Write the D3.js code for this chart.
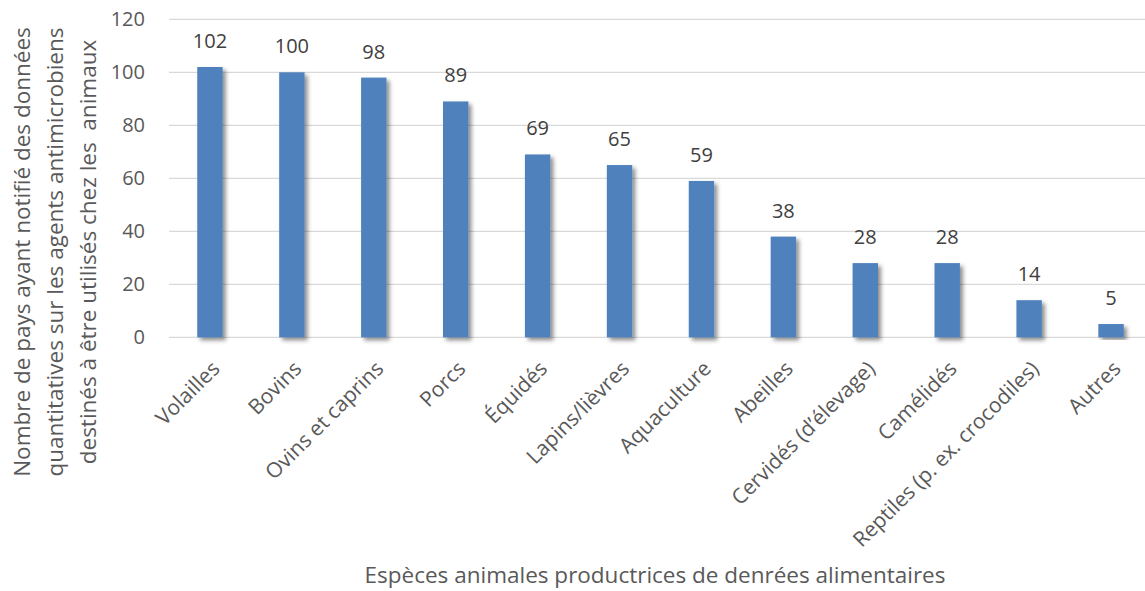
<!DOCTYPE html>
<html>
<head>
<meta charset="utf-8">
<script src="https://cdn.jsdelivr.net/npm/d3@7"></script>
<style>
	body { margin: 0; background: #fff; }
	svg { display: block; font-family: "Open Sans", "Noto Sans", sans-serif; }
</style>
</head>
<body>
<div id="chart"></div>
<script>
const categories = [
	"Volailles",
	"Bovins",
	"Ovins et caprins",
	"Porcs",
	"Équidés",
	"Lapins/lièvres",
	"Aquaculture",
	"Abeilles",
	"Cervidés (d’élevage)",
	"Camélidés",
	"Reptiles (p. ex. crocodiles)",
	"Autres",
];
const values = [102, 100, 98, 89, 69, 65, 59, 38, 28, 28, 14, 5];
const yTicks = [0, 20, 40, 60, 80, 100, 120];
const yTitleLines = [
	"Nombre de pays ayant notifié des données",
	"quantitatives sur les agents antimicrobiens",
	"destinés à être utilisés chez les  animaux",
];
const xTitle = "Espèces animales productrices de denrées alimentaires";

const data = categories.map((c, i) => ({ name: c, value: values[i] }));

const W = 1145, H = 591;
const plot = { left: 169, right: 1152, top: 19.3, bottom: 337.3 };

const svg = d3.select("#chart")
	.append("svg")
	.attr("width", W)
	.attr("height", H);

// bar shadow
const defs = svg.append("defs");
const f = defs.append("filter")
	.attr("id", "shadow")
	.attr("x", "-30%").attr("y", "-10%")
	.attr("width", "180%").attr("height", "130%");
f.append("feDropShadow")
	.attr("dx", 3).attr("dy", 3)
	.attr("stdDeviation", 2.2)
	.attr("flood-color", "#000")
	.attr("flood-opacity", 0.45);

const x = d3.scaleBand()
	.domain(categories)
	.range([plot.left, plot.right])
	.paddingInner(0.69)
	.paddingOuter(0.345);

const y = d3.scaleLinear()
	.domain([0, 120])
	.range([plot.bottom, plot.top]);

// gridlines
svg.append("g")
	.selectAll("line")
	.data(yTicks)
	.join("line")
	.attr("x1", plot.left)
	.attr("x2", plot.right)
	.attr("y1", d => y(d))
	.attr("y2", d => y(d))
	.attr("stroke", "#d9d9d9")
	.attr("stroke-width", 1.3);

// Y axis labels
const yAxis = svg.append("g")
	.attr("transform", `translate(${plot.left - 24},0)`)
	.call(d3.axisLeft(y).tickValues(yTicks).tickSize(0).tickPadding(0));
yAxis.select(".domain").remove();
yAxis.selectAll("text")
	.attr("fill", "#595959")
	.style("font-size", "20px")
	.style("font-family", "'Open Sans', sans-serif");

// Bars
svg.append("g")
	.selectAll("rect")
	.data(data)
	.join("rect")
	.attr("x", d => x(d.name))
	.attr("y", d => y(d.value))
	.attr("width", x.bandwidth())
	.attr("height", d => y(0) - y(d.value))
	.attr("fill", "#4f81bd")
	.attr("filter", "url(#shadow)");

// Value labels
svg.append("g")
	.selectAll("text")
	.data(data)
	.join("text")
	.attr("x", d => x(d.name) + x.bandwidth() / 2)
	.attr("y", d => y(d.value) - 19)
	.attr("text-anchor", "middle")
	.attr("fill", "#404040")
	.style("font-size", "20px")
	.text(d => d.value);

// X category labels
svg.append("g")
	.selectAll("text")
	.data(categories)
	.join("text")
	.attr("transform", d => `translate(${x(d) + x.bandwidth() / 2 + 11},370)rotate(-45)`)
	.attr("text-anchor", "end")
	.attr("fill", "#595959")
	.style("font-size", "21px")
	.text(d => d);

// Y title
svg.append("g")
	.selectAll("text")
	.data(yTitleLines)
	.join("text")
	.attr("transform", (d, i) => `translate(${30 + i * 33},252)rotate(-90)`)
	.attr("text-anchor", "middle")
	.attr("fill", "#595959")
	.style("font-size", "22.5px")
	.style("white-space", "pre")
	.text(d => d);

// X title
svg.append("text")
	.attr("x", 655)
	.attr("y", 583)
	.attr("text-anchor", "middle")
	.attr("fill", "#595959")
	.style("font-size", "22.5px")
	.text(xTitle);
</script>
</body>
</html>
